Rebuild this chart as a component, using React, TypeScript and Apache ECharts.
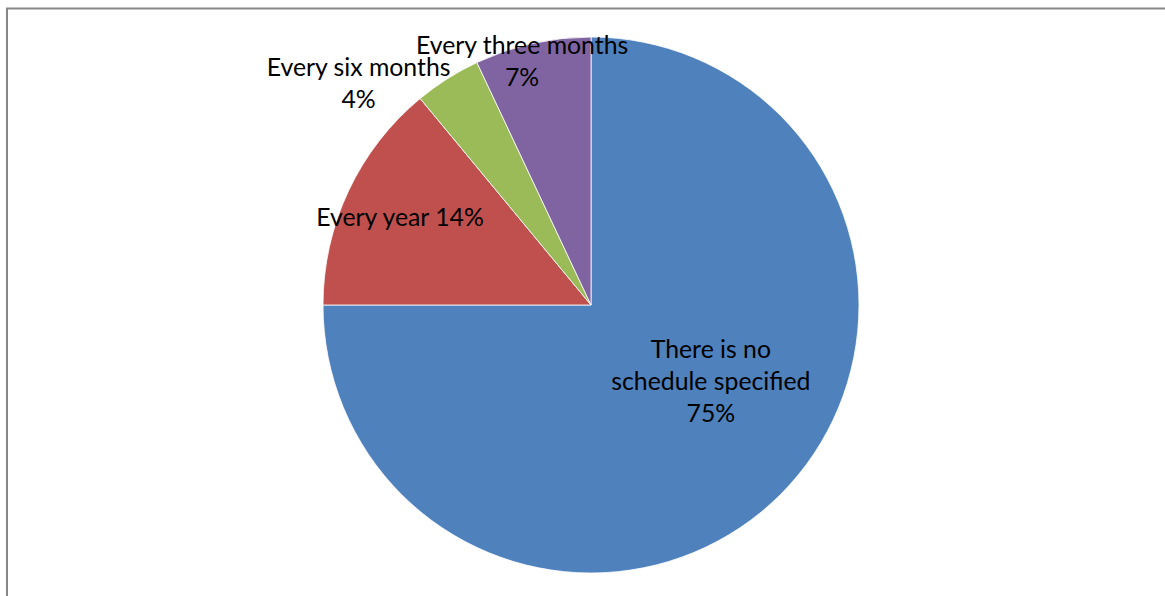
import React, { useEffect, useRef } from "react";
import * as echarts from "echarts";

const categories = [
  "There is no\nschedule specified",
  "Every year",
  "Every six months",
  "Every three months",
];
const values = [75, 14, 4, 7];
const colors = ["#4F81BD", "#C0504D", "#9BBB59", "#8064A2"];
const labelSeparators = ["\n", " ", "\n", "\n"];
const labelShift = [
  [23, -21],
  [-67, -30],
  [-159, -107],
  [-39, -111],
];

export default function App() {
  const ref = useRef<HTMLDivElement>(null);
  useEffect(() => {
    document.body.style.margin = "0";
    const chart = echarts.init(ref.current!, null, { renderer: "svg" });
    chart.setOption({
      animation: false,
      backgroundColor: "#ffffff",
      graphic: [
        {
          type: "rect",
          shape: { x: 7, y: 8.5, width: 1300, height: 800 },
          style: { fill: "none", stroke: "#878787", lineWidth: 2 },
          silent: true,
        },
      ],
      series: [
        {
          type: "pie",
          center: [591, 305],
          radius: [0, 268],
          startAngle: 90,
          clockwise: true,
          avoidLabelOverlap: false,
          itemStyle: { borderColor: "#ffffff", borderWidth: 0.8 },
          label: {
            show: true,
            position: "inside",
            color: "#000000",
            fontFamily: "Lato",
            fontSize: 24.8,
            lineHeight: 32,
            align: "center",
            formatter: (p: any) =>
              p.name + labelSeparators[p.dataIndex] + p.value + "%",
          },
          labelLine: { show: false },
          labelLayout: (p: any) => ({
            dx: labelShift[p.dataIndex][0],
            dy: labelShift[p.dataIndex][1],
          }),
          data: categories.map((c, i) => ({
            name: c,
            value: values[i],
            itemStyle: { color: colors[i] },
          })),
        },
      ],
    });
    return () => chart.dispose();
  }, []);
  return <div ref={ref} style={{ width: 1165, height: 596 }} />;
}
